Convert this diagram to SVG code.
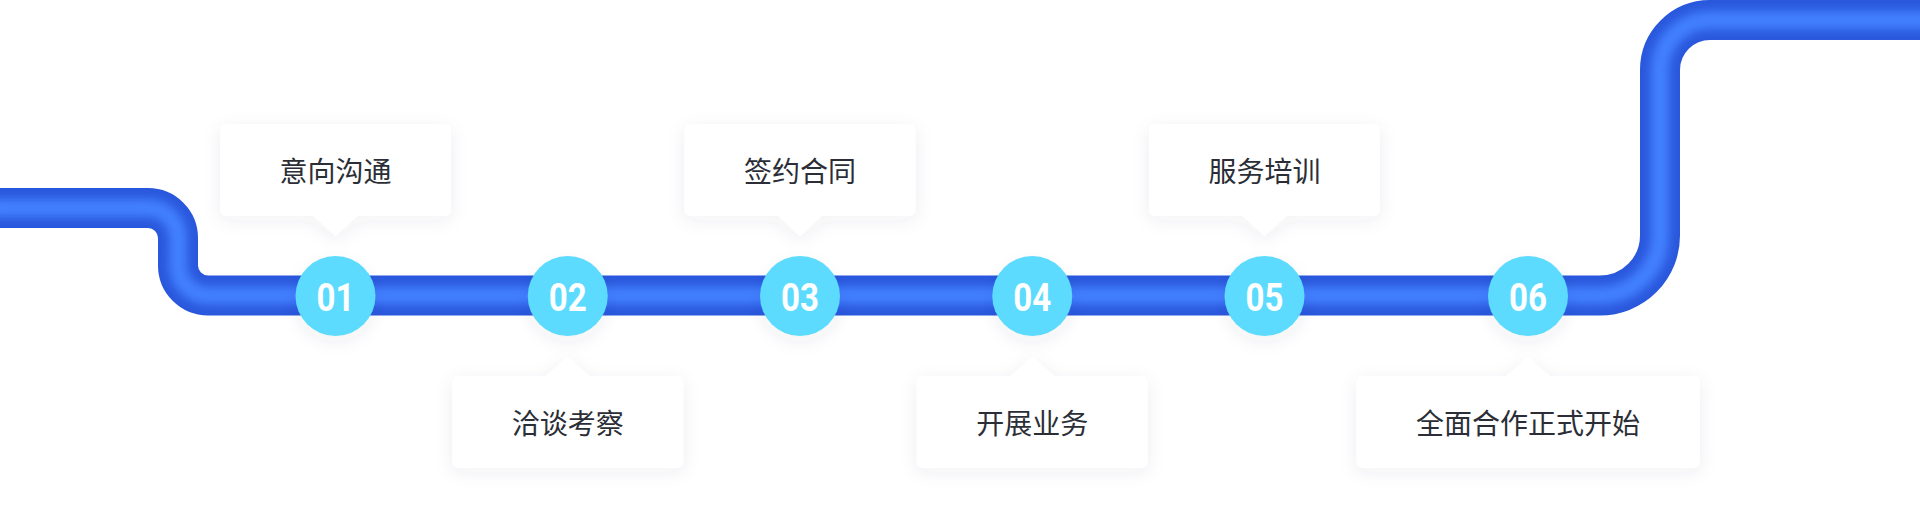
<svg xmlns="http://www.w3.org/2000/svg" xmlns:xlink="http://www.w3.org/1999/xlink" width="1920" height="508" viewBox="0 0 1920 508">
<style>
.lbl{font-family:"Noto Sans CJK SC","Noto Sans",sans-serif;font-size:28px;fill:#2b2e36;text-anchor:middle;dominant-baseline:central}
.num{font-family:Roboto,"DejaVu Sans",sans-serif;font-weight:700;font-size:39px;fill:#ffffff;text-anchor:middle;dominant-baseline:central}
.dot{fill:#5cdbff}
.box{fill:#ffffff}
</style>
<defs>
<filter id="bshadow" x="-30%" y="-50%" width="160%" height="200%">
<feDropShadow dx="0" dy="4" stdDeviation="9" flood-color="#3c4664" flood-opacity="0.07"/>
</filter>
<filter id="cshadow" x="-50%" y="-50%" width="200%" height="200%">
<feDropShadow dx="0" dy="6" stdDeviation="8" flood-color="#3c4664" flood-opacity="0.07"/>
</filter>
<filter id="hblur" x="-5%" y="-20%" width="110%" height="140%">
<feGaussianBlur stdDeviation="5"/>
</filter>
<path id="pipePath" d="M -10 208 H 148 A 30 30 0 0 1 178 238 V 265.5 A 30 30 0 0 0 208 295.5 H 1600 A 60 60 0 0 0 1660 235.5 V 70 A 50 50 0 0 1 1710 20 H 1940"/>
<mask id="pipeMask" maskUnits="userSpaceOnUse" x="0" y="0" width="1920" height="508">
<use xlink:href="#pipePath" fill="none" stroke="#ffffff" stroke-width="40"/>
</mask>
<path id="boxTop" d="M -109.5 0 H 109.5 A 6 6 0 0 1 115.5 6 V 86 A 6 6 0 0 1 109.5 92 H 22 L 0 112 L -22 92 H -109.5 A 6 6 0 0 1 -115.5 86 V 6 A 6 6 0 0 1 -109.5 0 Z"/>
<path id="boxBot" d="M -109.5 0 H -22 L 0 -19 L 22 0 H 109.5 A 6 6 0 0 1 115.5 6 V 86 A 6 6 0 0 1 109.5 92 H -109.5 A 6 6 0 0 1 -115.5 86 V 6 A 6 6 0 0 1 -109.5 0 Z"/>
</defs>
<rect width="1920" height="508" fill="#ffffff"/>
<g id="connectors">
<use xlink:href="#pipePath" fill="none" stroke="#2a58dd" stroke-width="40"/>
<g mask="url(#pipeMask)">
<use xlink:href="#pipePath" fill="none" stroke="#4280ff" stroke-width="18" filter="url(#hblur)"/>
</g>
</g>
<g id="node-01">
<use xlink:href="#boxTop" class="box" filter="url(#bshadow)" transform="translate(335.5 124)"/>
<text class="lbl" x="335.5" y="170">意向沟通</text>
<circle class="dot" cx="335.5" cy="296" r="40" filter="url(#cshadow)"/>
<text class="num" x="335.5" y="298" textLength="38" lengthAdjust="spacingAndGlyphs">01</text>
</g>
<g id="node-02">
<use xlink:href="#boxBot" class="box" filter="url(#bshadow)" transform="translate(567.75 376)"/>
<text class="lbl" x="567.75" y="422">洽谈考察</text>
<circle class="dot" cx="567.75" cy="296" r="40" filter="url(#cshadow)"/>
<text class="num" x="567.75" y="298" textLength="38" lengthAdjust="spacingAndGlyphs">02</text>
</g>
<g id="node-03">
<use xlink:href="#boxTop" class="box" filter="url(#bshadow)" transform="translate(800 124)"/>
<text class="lbl" x="800" y="170">签约合同</text>
<circle class="dot" cx="800" cy="296" r="40" filter="url(#cshadow)"/>
<text class="num" x="800" y="298" textLength="38" lengthAdjust="spacingAndGlyphs">03</text>
</g>
<g id="node-04">
<use xlink:href="#boxBot" class="box" filter="url(#bshadow)" transform="translate(1032.25 376)"/>
<text class="lbl" x="1032.25" y="422">开展业务</text>
<circle class="dot" cx="1032.25" cy="296" r="40" filter="url(#cshadow)"/>
<text class="num" x="1032.25" y="298" textLength="38" lengthAdjust="spacingAndGlyphs">04</text>
</g>
<g id="node-05">
<use xlink:href="#boxTop" class="box" filter="url(#bshadow)" transform="translate(1264.5 124)"/>
<text class="lbl" x="1264.5" y="170">服务培训</text>
<circle class="dot" cx="1264.5" cy="296" r="40" filter="url(#cshadow)"/>
<text class="num" x="1264.5" y="298" textLength="38" lengthAdjust="spacingAndGlyphs">05</text>
</g>
<g id="node-06">
<path class="box" filter="url(#bshadow)" d="M 1362.5 376 H 1506 L 1528 357 L 1550 376 H 1694 A 6 6 0 0 1 1700 382 V 462 A 6 6 0 0 1 1694 468 H 1362.5 A 6 6 0 0 1 1356.5 462 V 382 A 6 6 0 0 1 1362.5 376 Z"/>
<text class="lbl" x="1528" y="422">全面合作正式开始</text>
<circle class="dot" cx="1528" cy="296" r="40" filter="url(#cshadow)"/>
<text class="num" x="1528" y="298" textLength="38" lengthAdjust="spacingAndGlyphs">06</text>
</g>
</svg>
